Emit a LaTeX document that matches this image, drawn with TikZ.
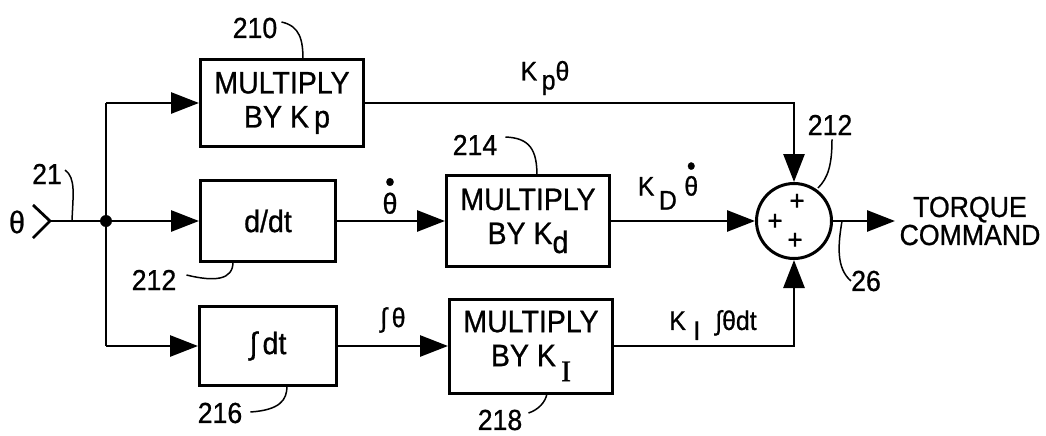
\documentclass[tikz,border=0pt]{standalone}
\usepackage{fontspec}
\setmainfont{Liberation Sans}[FakeStretch=0.92, FakeBold=0.8]
\newfontfamily\serifI{Liberation Serif}[FakeBold=0.8]
\usetikzlibrary{arrows.meta}
\newcommand{\thd}{\vbox{\offinterlineskip\halign{\hfil##\hfil\cr •\cr\noalign{\kern1pt}θ\cr}}}
\begin{document}
\begin{tikzpicture}[x=1pt,y=-1pt,
  blk/.style={draw, line width=3pt, inner sep=0pt, align=center, font=\fontsize{31}{34}\selectfont},
  conn/.style={line width=2.8pt},
  arr/.style={conn, -{Triangle[length=28pt,width=21pt]}},
  ldr/.style={line width=1.5pt},
  num/.style={font=\fontsize{29}{30}\selectfont, inner sep=0pt},
  lbl/.style={font=\fontsize{27}{28}\selectfont, inner sep=0pt},
  plus/.style={font=\fontsize{28}{28}\selectfont, inner sep=0pt}]
\useasboundingbox (0,0) rectangle (1046,436);
% input
\node[font=\fontsize{31}{32}\selectfont, inner sep=0pt] (thin) at (17,222) {θ};
\coordinate (tip) at (50,221);
\draw[conn, line join=miter] (tip) ++(-17,-16) -- (tip) -- ++(-17,17);
\node[circle, fill, inner sep=0pt, minimum size=12pt] (junc) at (106,221) {};
\coordinate (top) at (106,103);
\coordinate (bot) at (106,346);
% blocks
\node[blk, minimum width=163pt, minimum height=86pt] (kp) at (282,103) {MULTIPLY\\\hspace*{10pt}BY K\,p};
\node[blk, minimum width=135pt, minimum height=81pt] (ddt) at (268,221) {d/dt};
\node[blk, minimum width=163pt, minimum height=91pt] (kd) at (528,221) {MULTIPLY\\BY K\raisebox{-9pt}{d}};
\node[blk, minimum width=137pt, minimum height=79pt] (int) at (268,346) {∫\,dt};
\node[blk, minimum width=163pt, minimum height=94pt] (ki) at (531,346) {MULTIPLY\\BY K\,\raisebox{-15pt}{\fontsize{30}{30}\serifI I}};
\node[circle, draw, line width=3pt, minimum size=75pt, inner sep=0pt] (sum) at (794,221) {};
\node[plus] (p1) at (797,202) {+};
\node[plus] (p2) at (775,222) {+};
\node[plus] (p3) at (795,241) {+};
\coordinate (out) at (895,221);
\node[align=center, font=\fontsize{29}{28}\selectfont, inner sep=0pt] (tq) at (970,221) {TORQUE\\COMMAND};
% connectors
\draw[conn] (tip) -- (junc);
\draw[conn] (top) -- (bot);
\draw[arr] (top) -- (kp);
\draw[arr] (junc) -- (ddt);
\draw[arr] (bot) -- (int);
\draw[arr] (ddt) -- (kd);
\draw[arr] (int) -- (ki);
\draw[arr] (kd) -- (sum);
\draw[arr] (kp.east) -| (sum.north);
\draw[arr] (ki.east) -| (sum.south);
\draw[arr] (sum) -- (out);
% signal labels
\node[lbl] (lkp) at (545,78) {K\,\raisebox{-9pt}{p}θ};
\node[lbl, font=\fontsize{29}{30}\selectfont] (lthd) at (390,196) {\thd};
\node[lbl] (lint) at (393,320) {∫\,θ};
\node[lbl] (lkd) at (668,186) {K\,\raisebox{-14pt}{D}\;\thd};
\node[lbl] (lki) at (713,325) {K\;\raisebox{-10pt}{I}\;\;∫θdt};
% reference numerals
\node[num] (n21) at (47,174) {21};
\node[num] (n210) at (255,28) {210};
\node[num] (n214) at (475,145) {214};
\node[num] (n212a) at (830,125) {212};
\node[num] (n212b) at (154,280) {212};
\node[num] (n216) at (220,413) {216};
\node[num] (n218) at (500,420) {218};
\node[num] (n26) at (866,281) {26};
% leaders
\coordinate (e21) at (72,221);
\coordinate (e210) at (303,60);
\coordinate (e214) at (537,176);
\coordinate (e212a) at (818,188);
\coordinate (e212b) at (233,262);
\coordinate (e216) at (287,386);
\coordinate (e218) at (547,393);
\coordinate (s26) at (842,221);
\draw[ldr] (n21.east) ++(3,-4) .. controls (76,178) and (73,195) .. (e21);
\draw[ldr] (n210.east) ++(4,-6) .. controls (300,26) and (303,40) .. (e210);
\draw[ldr] (n214.east) ++(8,-8) .. controls (530,138) and (537,150) .. (e214);
\draw[ldr] (n212a.south) ++(2,4) .. controls (832,165) and (828,178) .. (e212a);
\draw[ldr] (n212b.east) ++(10,-5) .. controls (215,282) and (233,280) .. (e212b);
\draw[ldr] (n216.east) ++(8,-1) .. controls (280,410) and (287,400) .. (e216);
\draw[ldr] (n218.east) ++(6,-7) .. controls (538,410) and (546,402) .. (e218);
\draw[ldr] (s26) .. controls (838,245) and (836,268) .. (n26.west);
\end{tikzpicture}
\end{document}
